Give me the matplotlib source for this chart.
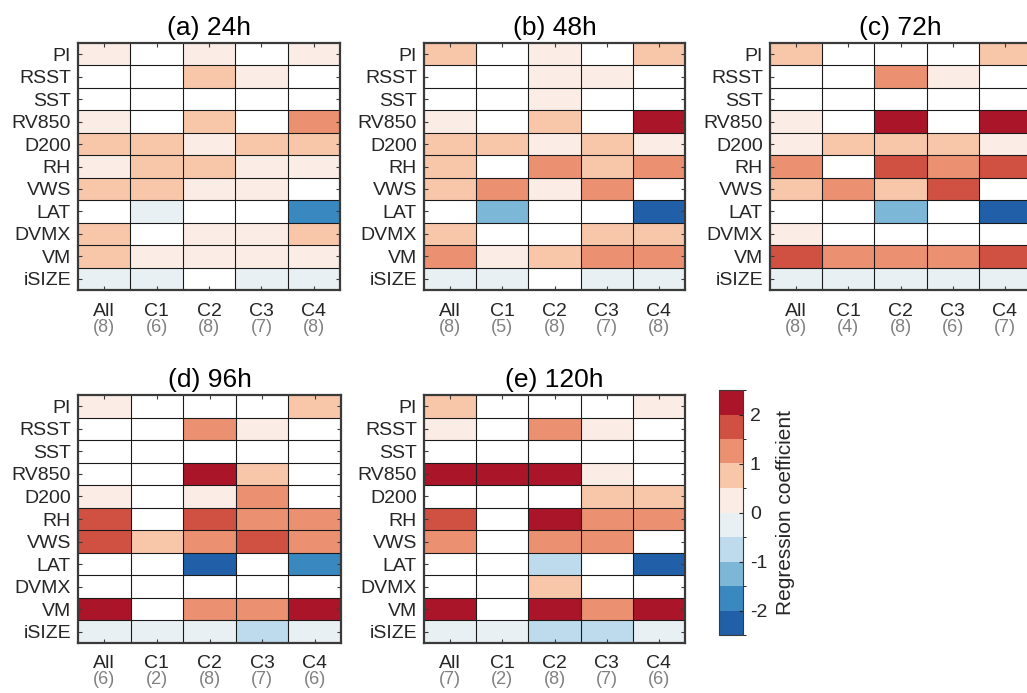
import numpy as np
import matplotlib
matplotlib.use("Agg")
import matplotlib.pyplot as plt
from matplotlib.colors import ListedColormap, BoundaryNorm

plt.rcParams['font.family'] = ['Liberation Sans', 'DejaVu Sans']
plt.rcParams['axes.unicode_minus'] = False

nan = np.nan
variables = ["PI", "RSST", "SST", "RV850", "D200", "RH", "VWS", "LAT", "DVMX", "VM", "iSIZE"]
groups = ["All", "C1", "C2", "C3", "C4"]

titles = ["(a) 24h", "(b) 48h", "(c) 72h", "(d) 96h", "(e) 120h"]

counts_24 = [8, 6, 8, 7, 8]
counts_48 = [8, 5, 8, 7, 8]
counts_72 = [8, 4, 8, 6, 7]
counts_96 = [6, 2, 8, 7, 6]
counts_120 = [7, 2, 8, 7, 6]

coef_24 = [
    [0.25, nan, 0.25, nan, 0.25],
    [nan, nan, 0.75, 0.25, nan],
    [nan, nan, nan, nan, nan],
    [0.25, nan, 0.75, nan, 1.25],
    [0.75, 0.75, 0.25, 0.75, 0.75],
    [0.25, 0.75, 0.75, 0.25, 0.25],
    [0.75, 0.75, 0.25, 0.25, nan],
    [nan, -0.25, nan, nan, -1.75],
    [0.75, nan, 0.25, 0.25, 0.75],
    [0.75, 0.25, 0.25, 0.25, 0.25],
    [-0.25, -0.25, nan, -0.25, -0.25],
]
coef_48 = [
    [0.75, nan, 0.25, nan, 0.75],
    [nan, nan, 0.25, 0.25, nan],
    [nan, nan, 0.25, nan, nan],
    [0.25, nan, 0.75, nan, 2.25],
    [0.75, 0.75, 0.25, 0.75, 0.25],
    [0.75, nan, 1.25, 0.75, 1.25],
    [0.75, 1.25, 0.25, 1.25, nan],
    [nan, -1.25, nan, nan, -2.25],
    [0.75, nan, nan, 0.75, 0.75],
    [1.25, 0.25, 0.75, 1.25, 1.25],
    [-0.25, -0.25, nan, -0.25, -0.25],
]
coef_72 = [
    [0.75, nan, nan, nan, 0.75],
    [nan, nan, 1.25, 0.25, nan],
    [nan, nan, nan, nan, nan],
    [0.25, nan, 2.25, nan, 2.25],
    [0.25, 0.75, 0.75, 0.75, 0.25],
    [1.25, nan, 1.75, 1.25, 1.75],
    [0.75, 1.25, 0.75, 1.75, nan],
    [nan, nan, -1.25, nan, -2.25],
    [0.25, nan, nan, nan, nan],
    [1.75, 1.25, 1.25, 1.25, 1.75],
    [-0.25, -0.25, -0.25, -0.25, -0.25],
]
coef_96 = [
    [0.25, nan, nan, nan, 0.75],
    [nan, nan, 1.25, 0.25, nan],
    [nan, nan, nan, nan, nan],
    [nan, nan, 2.25, 0.75, nan],
    [0.25, nan, 0.25, 1.25, nan],
    [1.75, nan, 1.75, 1.25, 1.25],
    [1.75, 0.75, 1.25, 1.75, 1.25],
    [nan, nan, -2.25, nan, -1.75],
    [nan, nan, nan, nan, nan],
    [2.25, nan, 1.25, 1.25, 2.25],
    [-0.25, -0.25, -0.25, -0.75, -0.25],
]
coef_120 = [
    [0.75, nan, nan, nan, 0.25],
    [0.25, nan, 1.25, 0.25, nan],
    [nan, nan, nan, nan, nan],
    [2.25, 2.25, 2.25, 0.25, nan],
    [nan, nan, nan, 0.75, 0.75],
    [1.75, nan, 2.25, 1.25, 1.25],
    [1.25, nan, 1.25, 1.25, nan],
    [nan, nan, -0.75, nan, -2.25],
    [nan, nan, 0.75, nan, nan],
    [2.25, nan, 2.25, 1.25, 2.25],
    [-0.25, -0.25, -0.75, -0.75, -0.25],
]

coefs = [coef_24, coef_48, coef_72, coef_96, coef_120]
counts = [counts_24, counts_48, counts_72, counts_96, counts_120]

level_colors = ["#2160A8", "#3A88C0", "#7DB7D7", "#BDDBEC", "#E8F0F3",
                "#FBEDE6", "#F8C7AA", "#EB9171", "#D05042", "#AA1529"]
bounds = np.arange(-2.5, 2.51, 0.5)
cmap = ListedColormap(level_colors)
cmap.set_bad("white")
norm = BoundaryNorm(bounds, cmap.N)

W, H = 1027, 693
fig = plt.figure(figsize=(W / 100, H / 100), dpi=100)


def rect(x0, y0, x1, y1):
    return [x0 / W, 1 - y1 / H, (x1 - x0) / W, (y1 - y0) / H]


boxes = [(78, 43, 340, 290), (424, 43, 685, 290), (770, 43, 1031, 290),
         (78, 395, 341, 643), (424, 395, 685, 643)]

frame_col = "#3a3a3a"
text_col = "#262626"
mesh = None
for k in range(5):
    ax = fig.add_axes(rect(*boxes[k]))
    data = np.ma.masked_invalid(np.array(coefs[k], dtype=float))
    nr, nc = data.shape
    mesh = ax.pcolormesh(np.arange(nc + 1), np.arange(nr + 1), data,
                         cmap=cmap, norm=norm, shading="flat")
    ax.set_xlim(0, nc)
    ax.set_ylim(nr, 0)
    for i in range(1, nr):
        ax.axhline(i, color="#1a1a1a", lw=0.8, zorder=3)
    for j in range(1, nc):
        ax.axvline(j, color="#1a1a1a", lw=0.8, zorder=3)
    ax.set_yticks(np.arange(nr) + 0.5)
    ax.set_yticklabels(variables, fontsize=14, color=text_col)
    ax.set_xticks(np.arange(nc) + 0.5)
    ax.set_xticklabels([])
    ax.tick_params(axis="both", direction="in", length=3, width=0.8,
                   color=frame_col, top=True, right=True, pad=5)
    for s in ax.spines.values():
        s.set_color(frame_col)
        s.set_linewidth(1.6)
        s.set_zorder(4)
    ax.set_title(titles[k], fontsize=19, color="black", pad=6)
    for j in range(nc):
        ax.annotate(groups[j], xy=(j + 0.5, nr), xycoords="data",
                    xytext=(0, -21), textcoords="offset pixels",
                    ha="center", va="center", fontsize=14, color=text_col,
                    annotation_clip=False)
        ax.annotate("(%d)" % counts[k][j], xy=(j + 0.5, nr), xycoords="data",
                    xytext=(0, -37), textcoords="offset pixels",
                    ha="center", va="center", fontsize=13, color="#808080",
                    annotation_clip=False)

cax = fig.add_axes(rect(719, 390, 743, 635))
cb = fig.colorbar(mesh, cax=cax, boundaries=bounds, ticks=[-2, -1, 0, 1, 2])
cb.outline.set_edgecolor(frame_col)
cb.outline.set_linewidth(0.8)
cb.ax.tick_params(direction="in", length=3, labelsize=14, colors=text_col, pad=5)
cb.set_label("Regression coefficient", fontsize=15, color=text_col, labelpad=6)

fig.savefig("out.png", dpi=100)
